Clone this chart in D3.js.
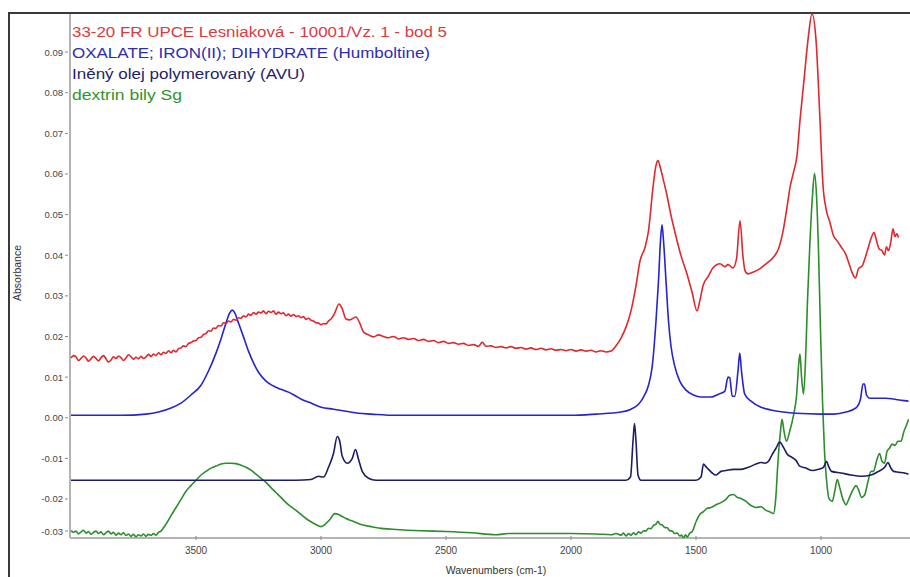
<!DOCTYPE html>
<html><head><meta charset="utf-8">
<script src="https://cdn.jsdelivr.net/npm/d3@7"></script>
<style>body{margin:0;background:#fff}svg{display:block}</style>
</head><body><svg id="c" width="910" height="577"></svg>
<script>
// ---------- DATA ----------
const legendLabels = [
  "33-20 FR UPCE Lesniaková - 10001/Vz. 1 - bod 5",
  "OXALATE; IRON(II); DIHYDRATE (Humboltine)",
  "Iněný olej polymerovaný (AVU)",
  "dextrin bily Sg"
];
const xTicks = [3500, 3000, 2500, 2000, 1500, 1000];
const yTicks = [0.09, 0.08, 0.07, 0.06, 0.05, 0.04, 0.03, 0.02, 0.01, 0.00, -0.01, -0.02, -0.03];

const redWn = [4000,3990,3980,3970,3960,3950,3940,3930,3920,3910,3900,3890,3880,3870,3860,3850,3840,3830,3820,3810,3800,3790,3780,3770,3760,3750,3740,3730,3720,3710,3700,3690,3680,3670,3660,3650,3640,3630,3620,3610,3600,3590,3580,3570,3560,3550,3540,3530,3520,3510,3500,3490,3480,3470,3460,3450,3440,3430,3420,3410,3400,3390,3380,3370,3360,3350,3340,3330,3320,3310,3300,3290,3280,3270,3260,3250,3240,3230,3220,3210,3200,3190,3180,3170,3160,3150,3140,3130,3120,3110,3100,3090,3080,3070,3060,3050,3040,3030,3020,3010,3000,2990,2980,2970,2960,2945,2928,2915,2900,2885,2860,2845,2830,2810,2790,2770,2750,2730,2710,2690,2670,2650,2630,2610,2590,2570,2550,2530,2510,2490,2470,2450,2430,2410,2390,2370,2355,2340,2320,2300,2280,2260,2240,2220,2200,2180,2160,2140,2120,2100,2080,2060,2040,2020,2000,1980,1960,1940,1920,1900,1880,1860,1840,1820,1800,1780,1760,1740,1724,1704,1690,1672,1660,1652,1642,1630,1616,1600,1584,1560,1536,1515,1496,1484,1472,1450,1432,1404,1385,1372,1352,1338,1324,1312,1304,1292,1270,1244,1220,1192,1170,1150,1135,1124,1110,1096,1084,1068,1052,1036,1020,1004,992,980,964,950,936,920,900,885,872,862,850,835,822,810,800,788,778,768,756,746,738,730,720,712,704,696,690];
const redAbs = [0.0147,0.0153,0.0150,0.0141,0.0146,0.0152,0.0147,0.0139,0.0145,0.0151,0.0146,0.0140,0.0148,0.0153,0.0145,0.0137,0.0142,0.0150,0.0146,0.0152,0.0148,0.0141,0.0147,0.0155,0.0150,0.0144,0.0149,0.0145,0.0151,0.0146,0.0150,0.0156,0.0151,0.0157,0.0153,0.0160,0.0155,0.0161,0.0158,0.0165,0.0160,0.0166,0.0162,0.0170,0.0172,0.0177,0.0175,0.0183,0.0185,0.0189,0.0190,0.0197,0.0198,0.0205,0.0207,0.0214,0.0213,0.0221,0.0220,0.0227,0.0226,0.0234,0.0232,0.0238,0.0236,0.0242,0.0240,0.0246,0.0245,0.0251,0.0248,0.0255,0.0252,0.0259,0.0255,0.0260,0.0258,0.0263,0.0256,0.0262,0.0259,0.0263,0.0255,0.0260,0.0256,0.0258,0.0251,0.0255,0.0250,0.0254,0.0249,0.0251,0.0246,0.0249,0.0242,0.0245,0.0240,0.0238,0.0234,0.0233,0.0229,0.0232,0.0231,0.0238,0.0243,0.0258,0.0280,0.0268,0.0243,0.0241,0.0248,0.0233,0.0211,0.0204,0.0199,0.0204,0.0200,0.0197,0.0200,0.0194,0.0197,0.0193,0.0195,0.0190,0.0193,0.0188,0.0190,0.0185,0.0188,0.0183,0.0185,0.0181,0.0183,0.0178,0.0180,0.0176,0.0186,0.0176,0.0177,0.0173,0.0175,0.0172,0.0175,0.0171,0.0173,0.0169,0.0172,0.0168,0.0171,0.0167,0.0170,0.0166,0.0168,0.0165,0.0168,0.0164,0.0167,0.0164,0.0166,0.0162,0.0165,0.0162,0.0164,0.0177,0.0196,0.0223,0.0263,0.0325,0.0386,0.0419,0.0460,0.0567,0.0621,0.0633,0.0614,0.0584,0.0547,0.0498,0.0456,0.0399,0.0354,0.0307,0.0263,0.0290,0.0325,0.0349,0.0369,0.0379,0.0372,0.0377,0.0369,0.0391,0.0485,0.0396,0.0362,0.0354,0.0359,0.0367,0.0379,0.0394,0.0416,0.0465,0.0522,0.0567,0.0604,0.0646,0.0732,0.0831,0.0930,0.0994,0.0930,0.0732,0.0572,0.0515,0.0480,0.0448,0.0436,0.0421,0.0401,0.0374,0.0352,0.0344,0.0367,0.0374,0.0396,0.0421,0.0441,0.0456,0.0436,0.0416,0.0411,0.0401,0.0421,0.0411,0.0436,0.0465,0.0446,0.0453,0.0443];

const blueWn = [4000,3800,3700,3650,3600,3560,3520,3480,3450,3420,3400,3380,3365,3355,3345,3330,3310,3290,3270,3250,3220,3190,3160,3130,3100,3070,3040,3000,2950,2900,2850,2800,2700,2500,2200,2000,1900,1800,1760,1730,1710,1690,1675,1660,1650,1642,1636,1630,1620,1610,1600,1585,1565,1540,1510,1480,1440,1410,1385,1372,1365,1355,1345,1332,1325,1318,1305,1280,1240,1200,1150,1100,1000,950,900,860,842,832,826,818,805,780,740,710,680,650];
const blueAbs = [0.0006,0.0006,0.0009,0.0014,0.0024,0.0036,0.0056,0.0080,0.0115,0.0159,0.0194,0.0233,0.0258,0.0265,0.0258,0.0233,0.0199,0.0164,0.0135,0.0112,0.0090,0.0078,0.0070,0.0063,0.0053,0.0043,0.0036,0.0026,0.0021,0.0016,0.0011,0.0009,0.0006,0.0006,0.0006,0.0006,0.0009,0.0014,0.0021,0.0033,0.0051,0.0080,0.0127,0.0238,0.0337,0.0436,0.0475,0.0436,0.0337,0.0238,0.0176,0.0127,0.0090,0.0068,0.0056,0.0051,0.0051,0.0058,0.0065,0.0100,0.0098,0.0053,0.0053,0.0115,0.0159,0.0115,0.0058,0.0041,0.0026,0.0019,0.0014,0.0011,0.0009,0.0009,0.0014,0.0024,0.0046,0.0083,0.0083,0.0056,0.0048,0.0048,0.0048,0.0046,0.0043,0.0041];

const navyWn = [4000,3100,3040,3010,2990,2970,2950,2935,2925,2915,2895,2875,2862,2850,2835,2810,2780,2000,1780,1762,1752,1746,1740,1732,1720,1500,1480,1470,1462,1450,1435,1420,1400,1380,1350,1320,1290,1260,1240,1225,1210,1195,1180,1165,1150,1135,1115,1100,1085,1060,1035,1010,990,978,970,958,920,880,840,800,770,745,732,722,710,690,665,650];
const navyAbs = [-0.0154,-0.0154,-0.0152,-0.0144,-0.0146,-0.0122,-0.0088,-0.0046,-0.0058,-0.0095,-0.0112,-0.0100,-0.0078,-0.0102,-0.0132,-0.0149,-0.0154,-0.0154,-0.0154,-0.0146,-0.0058,-0.0014,-0.0058,-0.0141,-0.0154,-0.0154,-0.0146,-0.0114,-0.0119,-0.0127,-0.0136,-0.0141,-0.0132,-0.0130,-0.0127,-0.0127,-0.0122,-0.0114,-0.0110,-0.0112,-0.0107,-0.0090,-0.0075,-0.0060,-0.0073,-0.0090,-0.0098,-0.0105,-0.0119,-0.0124,-0.0130,-0.0127,-0.0122,-0.0107,-0.0119,-0.0132,-0.0136,-0.0141,-0.0144,-0.0141,-0.0132,-0.0122,-0.0110,-0.0122,-0.0132,-0.0134,-0.0136,-0.0139];

const greenWn = [4000,3990,3980,3970,3960,3950,3940,3930,3920,3910,3900,3890,3880,3870,3860,3850,3840,3830,3820,3810,3800,3790,3780,3770,3760,3750,3740,3730,3720,3710,3700,3690,3680,3670,3660,3650,3640,3630,3620,3600,3580,3560,3540,3520,3500,3480,3460,3440,3420,3400,3380,3360,3340,3320,3300,3280,3260,3240,3220,3200,3180,3160,3140,3120,3100,3080,3060,3040,3020,3000,2985,2965,2945,2930,2915,2900,2880,2860,2840,2800,2750,2700,2600,2500,2400,2300,2250,2200,2100,2000,1900,1840,1820,1800,1790,1780,1770,1760,1750,1740,1730,1720,1710,1700,1690,1680,1670,1660,1652,1645,1635,1625,1615,1605,1595,1585,1575,1565,1558,1550,1542,1535,1525,1515,1500,1485,1470,1455,1440,1420,1400,1380,1365,1350,1335,1320,1300,1280,1260,1240,1220,1200,1190,1182,1172,1162,1156,1148,1138,1125,1110,1098,1088,1084,1078,1070,1062,1054,1044,1034,1026,1018,1010,1002,994,986,978,968,955,945,935,925,912,900,888,872,860,850,838,826,812,800,790,778,766,756,746,736,726,716,704,692,680,668,658,650];
const greenAbs = [-0.0278,-0.0282,-0.0279,-0.0286,-0.0281,-0.0277,-0.0284,-0.0280,-0.0287,-0.0282,-0.0279,-0.0285,-0.0281,-0.0288,-0.0283,-0.0279,-0.0286,-0.0282,-0.0289,-0.0284,-0.0288,-0.0283,-0.0290,-0.0286,-0.0292,-0.0287,-0.0293,-0.0288,-0.0291,-0.0286,-0.0292,-0.0287,-0.0290,-0.0285,-0.0289,-0.0282,-0.0279,-0.0271,-0.0262,-0.0241,-0.0221,-0.0201,-0.0181,-0.0167,-0.0154,-0.0141,-0.0132,-0.0124,-0.0119,-0.0114,-0.0112,-0.0112,-0.0113,-0.0117,-0.0122,-0.0129,-0.0139,-0.0149,-0.0159,-0.0172,-0.0184,-0.0196,-0.0209,-0.0219,-0.0228,-0.0238,-0.0248,-0.0256,-0.0263,-0.0268,-0.0263,-0.0251,-0.0236,-0.0238,-0.0243,-0.0248,-0.0253,-0.0258,-0.0263,-0.0268,-0.0273,-0.0275,-0.0278,-0.0280,-0.0283,-0.0288,-0.0285,-0.0285,-0.0285,-0.0285,-0.0286,-0.0288,-0.0285,-0.0289,-0.0284,-0.0291,-0.0285,-0.0289,-0.0283,-0.0288,-0.0281,-0.0284,-0.0278,-0.0279,-0.0272,-0.0273,-0.0265,-0.0262,-0.0255,-0.0262,-0.0264,-0.0270,-0.0271,-0.0278,-0.0279,-0.0285,-0.0284,-0.0291,-0.0289,-0.0296,-0.0288,-0.0294,-0.0284,-0.0280,-0.0256,-0.0238,-0.0231,-0.0223,-0.0221,-0.0214,-0.0209,-0.0201,-0.0191,-0.0189,-0.0196,-0.0199,-0.0206,-0.0216,-0.0221,-0.0219,-0.0228,-0.0233,-0.0236,-0.0206,-0.0107,-0.0033,-0.0004,-0.0033,-0.0058,-0.0033,0.0006,0.0053,0.0140,0.0157,0.0102,0.0058,0.0140,0.0288,0.0436,0.0547,0.0601,0.0547,0.0411,0.0214,0.0041,-0.0083,-0.0152,-0.0199,-0.0206,-0.0181,-0.0152,-0.0172,-0.0201,-0.0214,-0.0199,-0.0177,-0.0167,-0.0177,-0.0196,-0.0191,-0.0157,-0.0132,-0.0132,-0.0107,-0.0088,-0.0107,-0.0112,-0.0083,-0.0075,-0.0065,-0.0068,-0.0058,-0.0058,-0.0033,-0.0018,-0.0004];

// ---------- STYLE ----------
const lineColors = ["#e3262b", "#2424d2", "#1c1c66", "#2b8d2b"];
const textColors = ["#dd3a3e", "#2c2cb4", "#232368", "#2e952e"];
const legendWidths = [375, 358, 233, 110];

const W = 910, H = 577;
const plot = {left: 70, right: 909, top: 13.5, bottom: 538};
const x = d3.scaleLinear().domain([4000, 650]).range([71, 908.5]);
const y = d3.scaleLinear().domain([-0.0296, 0.0995]).range([plot.bottom, plot.top]);

const svg = d3.select("#c");
svg.append("rect").attr("width", W).attr("height", H).attr("fill", "#fff");

svg.append("defs").append("clipPath").attr("id", "clip")
  .append("rect").attr("x", plot.left).attr("y", plot.top - 1)
  .attr("width", plot.right - plot.left + 2).attr("height", plot.bottom - plot.top + 1);

// outer frame
svg.append("path").attr("d", `M9,${H + 5}V13H${W + 5}`)
  .attr("fill", "none").attr("stroke", "#3a3a3a").attr("stroke-width", 2);

// axes lines
svg.append("line").attr("x1", plot.left).attr("x2", plot.left).attr("y1", 14).attr("y2", plot.bottom)
  .attr("stroke", "#b4b4b4").attr("stroke-width", 2);
svg.append("line").attr("x1", plot.left).attr("x2", W).attr("y1", plot.bottom).attr("y2", plot.bottom)
  .attr("stroke", "#b4b4b4").attr("stroke-width", 2);

const font = "'Liberation Sans', Arial, sans-serif";

// y ticks
const yg = svg.append("g");
yTicks.forEach(t => {
  const yy = Math.min(y(t), 531);
  yg.append("line").attr("x1", 65).attr("x2", 68).attr("y1", yy).attr("y2", yy)
    .attr("stroke", "#888").attr("stroke-width", 1);
  yg.append("text").attr("x", 63).attr("y", yy + 3.5).attr("text-anchor", "end")
    .attr("font-family", font).attr("font-size", 9.5).attr("fill", "#444")
    .text(t.toFixed(2));
});

// x ticks
const xg = svg.append("g");
xTicks.forEach(t => {
  xg.append("line").attr("x1", x(t)).attr("x2", x(t)).attr("y1", plot.bottom - 2).attr("y2", plot.bottom + 2)
    .attr("stroke", "#888").attr("stroke-width", 1);
  xg.append("text").attr("x", x(t)).attr("y", 554).attr("text-anchor", "middle")
    .attr("font-family", font).attr("font-size", 10).attr("fill", "#444")
    .text(t);
});

// axis titles
svg.append("text").attr("x", 496).attr("y", 574).attr("text-anchor", "middle")
  .attr("font-family", font).attr("font-size", 10.5).attr("fill", "#333")
  .text("Wavenumbers (cm-1)");
svg.append("text").attr("transform", "translate(21,273) rotate(-90)").attr("text-anchor", "middle")
  .attr("font-family", font).attr("font-size", 10.5).attr("fill", "#333")
  .text("Absorbance");

// series
const series = [
  {wn: redWn, ab: redAbs},
  {wn: blueWn, ab: blueAbs},
  {wn: navyWn, ab: navyAbs},
  {wn: greenWn, ab: greenAbs}
];
const line = d3.line().x(d => x(d[0])).y(d => y(d[1])).curve(d3.curveMonotoneX);
const gl = svg.append("g").attr("clip-path", "url(#clip)");
// draw order: green, navy, blue, red
[3, 2, 1, 0].forEach(i => {
  const s = series[i];
  const pts = s.wn.map((w, k) => [w, s.ab[k]]);
  gl.append("path").attr("d", line(pts)).attr("fill", "none")
    .attr("stroke", lineColors[i]).attr("stroke-width", 1.6).attr("stroke-linejoin", "round");
});

// legend
legendLabels.forEach((t, i) => {
  svg.append("text").attr("x", 72).attr("y", 37 + i * 21)
    .attr("font-family", font).attr("font-size", 15.5).attr("fill", textColors[i])
    .attr("textLength", legendWidths[i]).attr("lengthAdjust", "spacingAndGlyphs")
    .text(t);
});
</script></body></html>
